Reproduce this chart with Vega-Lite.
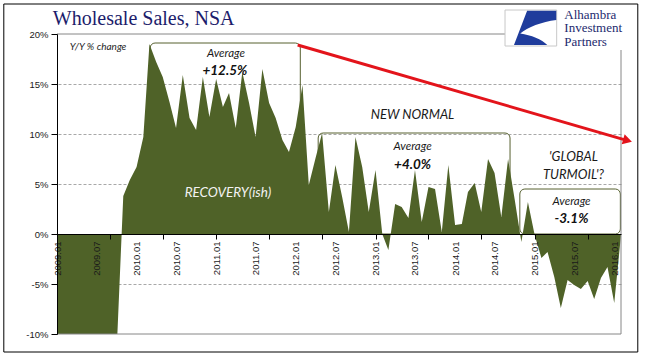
{
  "$schema": "https://vega.github.io/schema/vega-lite/v6.json",
  "autosize": {"type": "none"},
  "width": 564,
  "height": 300,
  "padding": {"left": 57, "top": 34, "right": 46, "bottom": 24},
  "background": "white",
  "config": {"view": {"stroke": null}},
  "datasets": {
    "sales": [
      {"date": "2009/01/01", "v": -14}, {"date": "2009/02/01", "v": -16}, {"date": "2009/03/01", "v": -18},
      {"date": "2009/04/01", "v": -19}, {"date": "2009/05/01", "v": -20}, {"date": "2009/06/01", "v": -19},
      {"date": "2009/07/01", "v": -18}, {"date": "2009/08/01", "v": -17}, {"date": "2009/09/01", "v": -15},
      {"date": "2009/10/01", "v": -12}, {"date": "2009/11/01", "v": 3.8}, {"date": "2009/12/01", "v": 5.4},
      {"date": "2010/01/01", "v": 6.7}, {"date": "2010/02/01", "v": 9.7}, {"date": "2010/03/01", "v": 19.0},
      {"date": "2010/04/01", "v": 17.2}, {"date": "2010/05/01", "v": 15.7}, {"date": "2010/06/01", "v": 13.2},
      {"date": "2010/07/01", "v": 10.6}, {"date": "2010/08/01", "v": 15.9}, {"date": "2010/09/01", "v": 11.6},
      {"date": "2010/10/01", "v": 10.4}, {"date": "2010/11/01", "v": 15.7}, {"date": "2010/12/01", "v": 11.7},
      {"date": "2011/01/01", "v": 15.5}, {"date": "2011/02/01", "v": 12.7}, {"date": "2011/03/01", "v": 14.1},
      {"date": "2011/04/01", "v": 10.6}, {"date": "2011/05/01", "v": 16.2}, {"date": "2011/06/01", "v": 13.1},
      {"date": "2011/07/01", "v": 9.7}, {"date": "2011/08/01", "v": 16.5}, {"date": "2011/09/01", "v": 13.1},
      {"date": "2011/10/01", "v": 11.6}, {"date": "2011/11/01", "v": 9.4}, {"date": "2011/12/01", "v": 8.2},
      {"date": "2012/01/01", "v": 10.7}, {"date": "2012/02/01", "v": 14.9}, {"date": "2012/03/01", "v": 4.9},
      {"date": "2012/04/01", "v": 7.6}, {"date": "2012/05/01", "v": 10.1}, {"date": "2012/06/01", "v": 2.2},
      {"date": "2012/07/01", "v": 6.9}, {"date": "2012/08/01", "v": 3.7}, {"date": "2012/09/01", "v": 0.2},
      {"date": "2012/10/01", "v": 9.7}, {"date": "2012/11/01", "v": 6.7}, {"date": "2012/12/01", "v": 2.2},
      {"date": "2013/01/01", "v": 6.4}, {"date": "2013/02/01", "v": 0.0}, {"date": "2013/03/01", "v": -1.6},
      {"date": "2013/04/01", "v": 3.0}, {"date": "2013/05/01", "v": 2.7}, {"date": "2013/06/01", "v": 1.6},
      {"date": "2013/07/01", "v": 6.4}, {"date": "2013/08/01", "v": 1.2}, {"date": "2013/09/01", "v": 4.7},
      {"date": "2013/10/01", "v": 4.5}, {"date": "2013/11/01", "v": 0.2}, {"date": "2013/12/01", "v": 6.9},
      {"date": "2014/01/01", "v": 0.9}, {"date": "2014/02/01", "v": 1.0}, {"date": "2014/03/01", "v": 4.2},
      {"date": "2014/04/01", "v": 5.1}, {"date": "2014/05/01", "v": 2.2}, {"date": "2014/06/01", "v": 7.5},
      {"date": "2014/07/01", "v": 6.1}, {"date": "2014/08/01", "v": 1.7}, {"date": "2014/09/01", "v": 7.5},
      {"date": "2014/10/01", "v": 3.5}, {"date": "2014/11/01", "v": -0.8}, {"date": "2014/12/01", "v": 3.2},
      {"date": "2015/01/01", "v": -0.1}, {"date": "2015/02/01", "v": -2.4}, {"date": "2015/03/01", "v": -1.8},
      {"date": "2015/04/01", "v": -4.3}, {"date": "2015/05/01", "v": -7.4}, {"date": "2015/06/01", "v": -4.6},
      {"date": "2015/07/01", "v": -5.1}, {"date": "2015/08/01", "v": -5.5}, {"date": "2015/09/01", "v": -4.7},
      {"date": "2015/10/01", "v": -6.5}, {"date": "2015/11/01", "v": -4.4}, {"date": "2015/12/01", "v": -3.3},
      {"date": "2016/01/01", "v": -6.9}, {"date": "2016/02/01", "v": -0.1}
    ]
  },
  "resolve": {"axis": {"x": "independent", "y": "independent"}},
  "layer": [
    {
      "data": {"values": [{}]},
      "mark": {"type": "rect", "fill": null, "fillOpacity": 0, "stroke": "#000000", "strokeWidth": 1, "clip": false},
      "encoding": {
        "x": {"datum": {"year": 2008, "month": 5, "date": 2}, "type": "temporal", "axis": null},
        "x2": {"datum": {"year": 2016, "month": 4, "date": 18}},
        "y": {"datum": 23.0, "type": "quantitative", "axis": null},
        "y2": {"datum": -11.8}
      }
    },
    {
      "data": {"values": [
        {"start": "2010/03/04", "end": "2012/01/22", "top": 19.1},
        {"start": "2012/04/13", "end": "2014/09/10", "top": 10.1},
        {"start": "2014/10/25", "end": "2016/01/29", "top": 4.5}
      ]},
      "mark": {"type": "rect", "fillOpacity": 0, "fill": "white", "stroke": "#56602f", "strokeWidth": 1, "cornerRadius": 5},
      "encoding": {
        "x": {"field": "start", "type": "temporal", "axis": {
          "orient": "bottom", "offset": -100, "title": null, "labels": false, "grid": false,
          "values": [
            {"year": 2009, "month": 1, "date": 1}, {"year": 2009, "month": 9, "date": 1}, {"year": 2010, "month": 5, "date": 1},
            {"year": 2011, "month": 1, "date": 1}, {"year": 2011, "month": 9, "date": 1}, {"year": 2012, "month": 5, "date": 1},
            {"year": 2013, "month": 1, "date": 1}, {"year": 2013, "month": 9, "date": 1}, {"year": 2014, "month": 5, "date": 1},
            {"year": 2015, "month": 1, "date": 1}, {"year": 2015, "month": 9, "date": 1}
          ],
          "ticks": true, "tickSize": 5, "tickColor": "#000000", "tickWidth": 1,
          "domain": true, "domainColor": "#000000", "domainWidth": 1, "zindex": 2
        }},
        "x2": {"field": "end"},
        "y": {"field": "top", "type": "quantitative", "axis": {
          "orient": "right", "values": [-5, 5, 10, 15], "grid": true, "gridColor": "#a8a8a8", "gridDash": [3, 2], "gridWidth": 1,
          "labels": false, "ticks": false, "domain": false, "title": null, "zindex": 0
        }},
        "y2": {"datum": 0}
      }
    },
    {
      "data": {"name": "sales"},
      "mark": {"type": "area", "color": "#4f6228", "clip": true},
      "encoding": {
        "x": {"field": "date", "type": "temporal",
          "scale": {"domain": [{"year": 2009, "month": 1, "date": 1}, {"year": 2016, "month": 2, "date": 1}]},
          "axis": {
            "orient": "bottom", "offset": -100, "title": null, "format": "%Y.%m",
            "values": [
              {"year": 2009, "month": 1, "date": 1}, {"year": 2009, "month": 7, "date": 1},
              {"year": 2010, "month": 1, "date": 1}, {"year": 2010, "month": 7, "date": 1},
              {"year": 2011, "month": 1, "date": 1}, {"year": 2011, "month": 7, "date": 1},
              {"year": 2012, "month": 1, "date": 1}, {"year": 2012, "month": 7, "date": 1},
              {"year": 2013, "month": 1, "date": 1}, {"year": 2013, "month": 7, "date": 1},
              {"year": 2014, "month": 1, "date": 1}, {"year": 2014, "month": 7, "date": 1},
              {"year": 2015, "month": 1, "date": 1}, {"year": 2015, "month": 7, "date": 1},
              {"year": 2016, "month": 1, "date": 1}
            ],
            "labelAngle": 270, "labelFont": "Liberation Sans", "labelFontSize": 9.5, "labelColor": "#1a1a1a",
            "labelPadding": 7, "labelOverlap": false, "labelFlush": false, "labelBound": false,
            "ticks": false, "domain": false, "grid": false, "zindex": 3
          }
        },
        "y": {"field": "v", "type": "quantitative",
          "scale": {"domain": [-10, 20], "nice": false, "zero": false},
          "axis": {
            "orient": "left", "values": [-10, -5, 0, 5, 10, 15, 20], "labelExpr": "datum.value + '%'",
            "labelFont": "Liberation Sans", "labelFontSize": 9.5, "labelColor": "#1a1a1a",
            "tickSize": 6, "tickColor": "#000000", "labelPadding": 3,
            "domain": true, "domainColor": "#000000", "domainWidth": 1, "grid": false, "title": null, "zindex": 3
          }
        }
      }
    },
    {
      "data": {"values": [{}]},
      "mark": {"type": "rule", "color": "#868686", "strokeWidth": 1},
      "encoding": {
        "x": {"datum": {"year": 2009, "month": 1, "date": 1}, "type": "temporal", "axis": null},
        "x2": {"datum": {"year": 2014, "month": 8, "date": 30}},
        "y": {"datum": 20, "type": "quantitative", "axis": null}
      }
    },
    {
      "data": {"values": [{}]},
      "mark": {"type": "rule", "color": "#868686", "strokeWidth": 1},
      "encoding": {
        "x": {"datum": {"year": 2009, "month": 1, "date": 1}, "type": "temporal", "axis": null},
        "x2": {"datum": {"year": 2016, "month": 2, "date": 1}},
        "y": {"datum": -10, "type": "quantitative", "axis": null}
      }
    },
    {
      "data": {"values": [{}]},
      "mark": {"type": "rule", "color": "#868686", "strokeWidth": 1},
      "encoding": {
        "x": {"datum": {"year": 2016, "month": 2, "date": 1}, "type": "temporal", "axis": null},
        "y": {"datum": -10, "type": "quantitative", "axis": null},
        "y2": {"datum": 18.4}
      }
    },
    {
      "data": {"values": [{"date": "2012/01/10", "v": 18.9}, {"date": "2016/03/02", "v": 9.34}]},
      "mark": {"type": "line", "color": "#e3141b", "strokeWidth": 3, "clip": false},
      "encoding": {
        "x": {"field": "date", "type": "temporal", "axis": null},
        "y": {"field": "v", "type": "quantitative", "axis": null}
      }
    },
    {
      "data": {"values": [{"date": "2016/03/02", "v": 9.34}]},
      "mark": {"type": "point", "shape": "triangle-right", "filled": true, "color": "#e3141b", "size": 110, "angle": 16.2, "opacity": 1, "clip": false},
      "encoding": {
        "x": {"field": "date", "type": "temporal", "axis": null},
        "y": {"field": "v", "type": "quantitative", "axis": null}
      }
    },
    {
      "data": {"values": [{"date": "2008/12/13", "v": 20.9, "label": "Wholesale Sales, NSA"}]},
      "mark": {"type": "text", "align": "left", "baseline": "alphabetic", "font": "Liberation Serif", "fontSize": 20, "color": "#1c1c6b", "clip": false},
      "encoding": {
        "x": {"field": "date", "type": "temporal", "axis": null},
        "y": {"field": "v", "type": "quantitative", "axis": null},
        "text": {"field": "label"}
      }
    },
    {
      "data": {"values": [{"date": "2009/02/28", "v": 18.7, "label": "Y/Y % change"}]},
      "mark": {"type": "text", "align": "left", "baseline": "middle", "font": "Lato", "fontStyle": "italic", "fontSize": 10, "color": "#262626"},
      "encoding": {
        "x": {"field": "date", "type": "temporal", "axis": null},
        "y": {"field": "v", "type": "quantitative", "axis": null},
        "text": {"field": "label"}
      }
    },
    {
      "data": {"values": [
        {"date": "2011/02/15", "v": 18.0, "label": "Average"},
        {"date": "2013/06/20", "v": 8.7, "label": "Average"},
        {"date": "2015/06/19", "v": 3.2, "label": "Average"}
      ]},
      "mark": {"type": "text", "align": "center", "baseline": "middle", "font": "Lato", "fontStyle": "italic", "fontSize": 11.5, "color": "#1a1a1a"},
      "encoding": {
        "x": {"field": "date", "type": "temporal", "axis": null},
        "y": {"field": "v", "type": "quantitative", "axis": null},
        "text": {"field": "label"}
      }
    },
    {
      "data": {"values": [
        {"date": "2011/02/10", "v": 16.3, "label": "+12.5%"},
        {"date": "2013/06/20", "v": 6.9, "label": "+4.0%"},
        {"date": "2015/06/19", "v": 1.5, "label": "-3.1%"}
      ]},
      "mark": {"type": "text", "align": "center", "baseline": "middle", "font": "Lato", "fontStyle": "italic", "fontWeight": "bold", "fontSize": 13.5, "color": "#111111"},
      "encoding": {
        "x": {"field": "date", "type": "temporal", "axis": null},
        "y": {"field": "v", "type": "quantitative", "axis": null},
        "text": {"field": "label"}
      }
    },
    {
      "data": {"values": [{"date": "2011/02/24", "v": 4.1, "label": "RECOVERY(ish)"}]},
      "mark": {"type": "text", "align": "center", "baseline": "middle", "font": "Lato", "fontStyle": "italic", "fontSize": 13.5, "color": "#f2f2f2"},
      "encoding": {
        "x": {"field": "date", "type": "temporal", "axis": null},
        "y": {"field": "v", "type": "quantitative", "axis": null},
        "text": {"field": "label"}
      }
    },
    {
      "data": {"values": [
        {"date": "2013/06/20", "v": 11.9, "label": "NEW NORMAL"},
        {"date": "2015/06/28", "v": 7.7, "label": "'GLOBAL"},
        {"date": "2015/06/28", "v": 5.9, "label": "TURMOIL'?"}
      ]},
      "mark": {"type": "text", "align": "center", "baseline": "middle", "font": "Lato", "fontStyle": "italic", "fontSize": 13, "color": "#1a1a1a"},
      "encoding": {
        "x": {"field": "date", "type": "temporal", "axis": null},
        "y": {"field": "v", "type": "quantitative", "axis": null},
        "text": {"field": "label"}
      }
    },
    {
      "data": {"values": [{}]},
      "mark": {"type": "rect", "fill": "white", "stroke": "#c8c8c8", "strokeWidth": 1, "clip": false},
      "encoding": {
        "x": {"datum": {"year": 2014, "month": 8, "date": 18}, "type": "temporal", "axis": null},
        "x2": {"datum": {"year": 2015, "month": 4, "date": 12}},
        "y": {"datum": 22.4, "type": "quantitative", "axis": null},
        "y2": {"datum": 18.8}
      }
    },
    {
      "data": {"values": [{}]},
      "mark": {"type": "point", "filled": true, "color": "#1f3c9c", "opacity": 1, "size": 1296, "clip": false,
        "shape": "M -0.42 -0.96 L 1.2 -0.96 L 1.2 -0.45 C 0.4 -0.35 -0.4 -0.05 -0.8 0.3 C -0.2 0.4 0.4 0.6 0.7 0.95 L -1.15 0.95 Z"},
      "encoding": {
        "x": {"datum": {"year": 2015, "month": 1, "date": 1}, "type": "temporal", "axis": null},
        "y": {"datum": 20.6, "type": "quantitative", "axis": null}
      }
    },
    {
      "data": {"values": [
        {"date": "2015/05/17", "v": 21.95, "label": ["Alhambra", "Investment", "Partners"]}
      ]},
      "mark": {"type": "text", "align": "left", "baseline": "middle", "font": "Liberation Serif", "fontSize": 13, "lineHeight": 13.5, "color": "#1c2a6e", "clip": false},
      "encoding": {
        "x": {"field": "date", "type": "temporal", "axis": null},
        "y": {"field": "v", "type": "quantitative", "axis": null},
        "text": {"field": "label"}
      }
    }
  ]
}
